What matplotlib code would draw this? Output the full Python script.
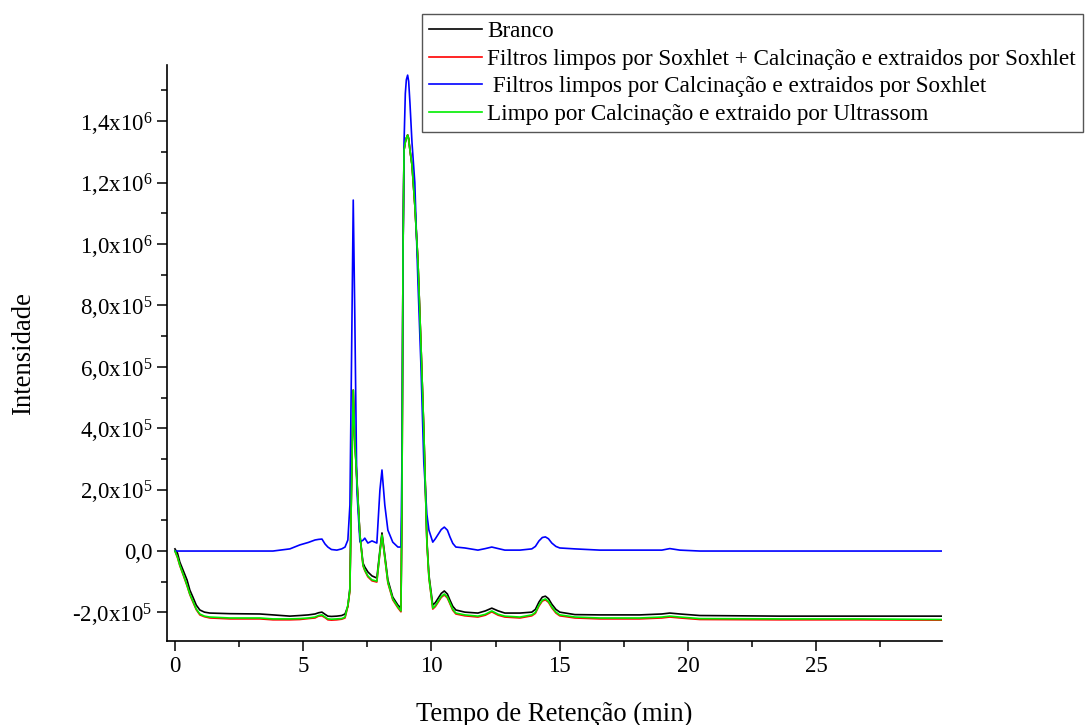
import matplotlib
matplotlib.use("Agg")
import matplotlib.pyplot as plt
from matplotlib.ticker import MultipleLocator, FuncFormatter
import numpy as np

plt.rcParams["font.family"] = "Liberation Serif"
plt.rcParams["mathtext.fontset"] = "custom"
plt.rcParams["mathtext.rm"] = "Liberation Serif"
plt.rcParams["mathtext.it"] = "Liberation Serif:italic"
plt.rcParams["mathtext.bf"] = "Liberation Serif:bold"

# --- retention time grid (min) shared by all four chromatograms ---
tempo = [0.0, 0.10, 0.19, 0.33, 0.47, 0.58, 0.70, 0.83, 0.97, 1.15,
         1.36, 2.14, 3.31, 3.82, 4.48, 4.87, 5.20, 5.46, 5.60, 5.73,
         5.85, 5.96, 6.10, 6.31, 6.50, 6.63, 6.74, 6.82, 6.88, 6.95,
         7.01, 7.09, 7.21, 7.33, 7.40, 7.52, 7.68, 7.87, 7.99, 8.07,
         8.18, 8.30, 8.49, 8.69, 8.81, 8.85, 8.89, 8.93, 8.98, 9.02,
         9.07, 9.11, 9.16, 9.24, 9.35, 9.47, 9.59, 9.70, 9.82, 9.90,
         10.05, 10.15, 10.38, 10.50, 10.62, 10.72, 10.83, 10.95, 11.30, 11.81,
         12.10, 12.35, 12.60, 12.86, 13.45, 13.91, 14.05, 14.19, 14.32, 14.44,
         14.56, 14.69, 14.85, 15.00, 15.59, 16.56, 18.12, 18.98, 19.29, 19.68,
         20.46, 23.58, 26.70, 29.89]

# intensities in units of 1e5
branco = [0.07, -0.07, -0.36, -0.65, -0.94, -1.27, -1.50, -1.76, -1.92, -1.99,
          -2.02, -2.04, -2.05, -2.08, -2.12, -2.10, -2.08, -2.05, -2.01, -1.99,
          -2.06, -2.12, -2.13, -2.12, -2.10, -2.05, -1.80, -1.20, 2.00, 5.24,
          3.60, 2.40, 0.52, -0.39, -0.52, -0.68, -0.81, -0.88, 0.03, 0.59,
          -0.13, -0.94, -1.50, -1.76, -1.86, 1.66, 9.80, 13.06, 13.32, 13.45,
          13.55, 13.45, 13.06, 12.57, 11.27, 9.48, 6.71, 3.94, 0.36, -0.78,
          -1.76, -1.68, -1.38, -1.30, -1.40, -1.60, -1.80, -1.92, -1.99, -2.02,
          -1.95, -1.86, -1.95, -2.02, -2.02, -1.99, -1.90, -1.66, -1.50, -1.47,
          -1.55, -1.73, -1.90, -1.99, -2.07, -2.08, -2.08, -2.05, -2.02, -2.05,
          -2.10, -2.12, -2.12, -2.12]

soxhlet_calc = [0.0, -0.22, -0.48, -0.80, -1.13, -1.42, -1.66, -1.91, -2.08, -2.14,
                -2.18, -2.21, -2.21, -2.24, -2.24, -2.23, -2.20, -2.18, -2.12, -2.11,
                -2.17, -2.24, -2.25, -2.24, -2.22, -2.18, -1.80, -1.30, 1.99, 5.24,
                3.62, 2.31, 0.52, -0.48, -0.64, -0.84, -0.97, -1.01, -0.05, 0.52,
                -0.22, -1.04, -1.59, -1.85, -1.98, 1.66, 9.80, 13.06, 13.32, 13.45,
                13.55, 13.40, 13.06, 12.57, 11.27, 9.48, 6.71, 3.94, 0.30, -0.87,
                -1.89, -1.81, -1.51, -1.43, -1.53, -1.72, -1.93, -2.05, -2.11, -2.15,
                -2.09, -1.98, -2.09, -2.15, -2.18, -2.11, -2.03, -1.79, -1.63, -1.59,
                -1.67, -1.85, -2.02, -2.11, -2.18, -2.21, -2.21, -2.18, -2.15, -2.18,
                -2.23, -2.24, -2.24, -2.25]

calc_soxhlet = [0.0, 0.0, 0.0, 0.0, 0.0, 0.0, 0.0, 0.0, 0.0, 0.0,
                0.0, 0.0, 0.0, 0.0, 0.07, 0.20, 0.28, 0.36, 0.38, 0.39,
                0.23, 0.13, 0.05, 0.03, 0.07, 0.13, 0.36, 1.50, 6.00, 11.43,
                7.70, 2.00, 0.30, 0.35, 0.42, 0.26, 0.33, 0.26, 1.99, 2.64,
                1.50, 0.68, 0.29, 0.13, 0.13, 3.00, 9.50, 13.30, 14.90, 15.35,
                15.50, 15.30, 14.60, 13.30, 12.00, 8.80, 6.00, 2.90, 1.20, 0.68,
                0.29, 0.40, 0.70, 0.78, 0.68, 0.46, 0.25, 0.13, 0.10, 0.03,
                0.08, 0.13, 0.08, 0.03, 0.03, 0.07, 0.15, 0.33, 0.44, 0.46,
                0.40, 0.26, 0.15, 0.10, 0.07, 0.03, 0.03, 0.03, 0.08, 0.03,
                0.0, 0.0, 0.0, 0.0]

ultrassom = [0.0, -0.20, -0.46, -0.78, -1.11, -1.40, -1.63, -1.89, -2.05, -2.12,
             -2.15, -2.18, -2.18, -2.21, -2.21, -2.20, -2.18, -2.15, -2.10, -2.08,
             -2.15, -2.21, -2.22, -2.21, -2.20, -2.15, -1.76, -1.27, 1.99, 5.24,
             3.62, 2.31, 0.52, -0.46, -0.62, -0.81, -0.94, -0.98, -0.03, 0.52,
             -0.20, -1.01, -1.56, -1.82, -1.95, 1.66, 9.80, 13.06, 13.32, 13.45,
             13.55, 13.40, 13.06, 12.57, 11.27, 9.48, 6.71, 3.94, 0.30, -0.85,
             -1.86, -1.78, -1.48, -1.40, -1.50, -1.69, -1.90, -2.02, -2.08, -2.12,
             -2.06, -1.95, -2.06, -2.12, -2.15, -2.08, -2.00, -1.76, -1.60, -1.56,
             -1.64, -1.82, -1.99, -2.08, -2.15, -2.18, -2.18, -2.15, -2.12, -2.15,
             -2.20, -2.21, -2.21, -2.23]

labels = ["Branco",
          "Filtros limpos por Soxhlet + Calcinação e extraidos por Soxhlet",
          " Filtros limpos por Calcinação e extraidos por Soxhlet",
          "Limpo por Calcinação e extraido por Ultrassom"]
colors = ["#000000", "#ff0000", "#0000ff", "#00ee00"]
series = [branco, soxhlet_calc, calc_soxhlet, ultrassom]


def sci_fmt(v, pos):
    val = v * 1e5
    if abs(val) < 1e-9:
        return "0,0"
    exp = int(np.floor(np.log10(abs(val)) + 1e-9))
    mant = val / 10 ** exp
    return ("%.1f" % mant).replace(".", ",") + "x10$^{%d}$" % exp


fig = plt.figure(figsize=(10.88, 7.25), dpi=100)
ax = fig.add_axes([167 / 1088, 1 - 641 / 725, (942 - 167) / 1088, (641 - 65) / 725])

handles = []
for ys, c, lb in zip(series, colors, labels):
    h, = ax.plot(tempo, ys, color=c, linewidth=1.2, label=lb)
    handles.append(h)

ax.set_xlim(-0.31, 29.9)
ax.set_ylim(-2.93, 15.83)
for s in ["top", "right"]:
    ax.spines[s].set_visible(False)
for s in ["left", "bottom"]:
    ax.spines[s].set_linewidth(1.2)

ax.xaxis.set_major_locator(MultipleLocator(5))
ax.xaxis.set_minor_locator(MultipleLocator(2.5))
ax.yaxis.set_major_locator(MultipleLocator(2))
ax.yaxis.set_minor_locator(MultipleLocator(1))
ax.yaxis.set_major_formatter(FuncFormatter(sci_fmt))
ax.tick_params(which="major", direction="out", length=7, width=1.1, labelsize=16.5)
ax.tick_params(which="minor", direction="out", length=4, width=1.1)

ax.set_xlabel("Tempo de Retenção (min)", fontsize=19.2, labelpad=18)
ax.set_ylabel("Intensidade", fontsize=19.2, labelpad=26)

leg = fig.legend(handles=handles, loc="upper left",
                 bbox_to_anchor=(422 / 1088, 1 - 14 / 725),
                 fontsize=16.7, frameon=True, fancybox=False, framealpha=1,
                 edgecolor="#555555", handlelength=2.3, handletextpad=0.2,
                 labelspacing=0.27, borderpad=0.3, borderaxespad=0)
leg.get_frame().set_linewidth(1.0)

fig.savefig("out.png", dpi=100)
